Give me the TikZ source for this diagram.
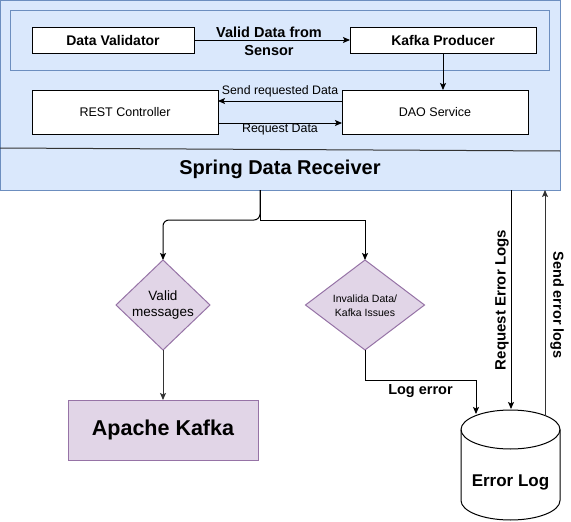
\documentclass[tikz,border=0pt]{standalone}
\usepackage{fontspec}
\setmainfont{Liberation Sans}
\usetikzlibrary{arrows.meta,shapes.geometric,calc}
\definecolor{bluefill}{HTML}{DAE8FC}
\definecolor{bluedraw}{HTML}{6C8EBF}
\definecolor{purfill}{HTML}{E1D5E7}
\definecolor{purdraw}{HTML}{9673A6}
\newcommand{\fsz}[2]{\fontsize{#1}{#2}\selectfont}
\begin{document}
\begin{tikzpicture}[x=1pt,y=-1pt,
  every node/.style={inner sep=0pt, outer sep=0pt},
  arr/.style={draw=black, line width=1pt, -{Stealth[length=7pt,width=6pt,inset=1.5pt]}},
  container/.style={draw=bluedraw, fill=bluefill, line width=1pt},
  wbox/.style={draw=black, fill=white, line width=1pt},
  dia/.style={diamond, draw=purdraw, fill=purfill, line width=1pt},
  pbox/.style={draw=purdraw, fill=purfill, line width=1pt}]
\useasboundingbox (0,0) rectangle (571,522);

% container
\node[container, minimum width=560pt, minimum height=190pt] (recv) at (280,95) {};
\node[container, minimum width=539pt, minimum height=60pt] (inner) at (279.5,40) {};
\coordinate (sepL) at (0,148);
\coordinate (sepR) at (560,151);
\draw[line width=1pt, draw=black!80] (sepL) -- (sepR);
\node[font=\fsz{20}{24}\bfseries] (title) at (280,169) {Spring Data Receiver};

% top boxes
\node[wbox, minimum width=162pt, minimum height=26pt, font=\fsz{14}{17}\bfseries] (dv) at (113,40) {Data Validator};
\node[wbox, minimum width=186pt, minimum height=26pt, font=\fsz{14}{17}\bfseries] (kp) at (443,40) {Kafka Producer};
\node[wbox, minimum width=186pt, minimum height=44pt, font=\fsz{12.5}{15}] (rest) at (125,112) {REST Controller};
\node[wbox, minimum width=186pt, minimum height=44pt, font=\fsz{12.5}{15}] (dao) at (435,112) {DAO Service};

\draw[arr] (dv) -- (kp);
\node[font=\fsz{14.5}{18}\bfseries, align=center] (vlbl) at (269,41) {Valid Data from\\Sensor};
\draw[arr] (kp.south) -- (dao.north -| kp.south);
\draw[arr] ($(dao.west)+(0,-11)$) -- ($(rest.east)+(0,-11)$);
\node[font=\fsz{12.3}{15}] (sendlbl) at (280,91) {Send requested Data};
\draw[arr] ($(rest.east)+(0,11)$) -- ($(dao.west)+(0,11)$);
\node[font=\fsz{12.4}{15}] (reqdlbl) at (280,130) {Request Data};

% branches
\coordinate (split) at (260,220);
\node[dia, minimum width=94pt, minimum height=90pt,
  label={[font=\fsz{13.5}{16}, align=center]center:Valid\\messages}] (valid) at (163,305) {};
\node[dia, minimum width=119pt, minimum height=90pt,
  label={[font=\fsz{10.5}{14}, align=center, yshift=-1pt]center:Invalida Data/\\Kafka Issues}] (inv) at (365,305) {};
\draw[arr, rounded corners=6pt] (recv.south -| split) -- (split) -| (valid.north);
\draw[arr] (recv.south -| split) -- (split) -| (inv.north);

\node[pbox, minimum width=190pt, minimum height=60pt, font=\fsz{21.5}{26}\bfseries] (kafka) at (163,430) {Apache Kafka};
\draw[arr, draw=black!80] (valid.south) -- (kafka.north);

% error log cylinder
\node[minimum width=99pt, minimum height=110pt,
  label={[font=\fsz{17}{20}\bfseries, yshift=-17pt]center:Error Log}] (err) at (510.5,465) {};
\draw[line width=1pt]
  ($(err.north west)+(0,19.5)$) -- ($(err.south west)+(0,-19.5)$)
  arc[start angle=180, end angle=0, x radius=49.5, y radius=19.5]
  -- ($(err.north east)+(0,19.5)$)
  arc[start angle=0, end angle=-180, x radius=49.5, y radius=19.5] -- cycle;
\draw[line width=1pt] ($(err.north west)+(0,19.5)$)
  arc[start angle=180, end angle=0, x radius=49.5, y radius=19.5];

\coordinate (lebend) at (476,380);
\coordinate (logend) at (476,414);
\draw[arr] (inv.south) |- (lebend) -- (logend);
\node[font=\fsz{14.5}{17}\bfseries] (loglbl) at (420.5,391) {Log error};

\coordinate (reqend) at (511,409);
\draw[arr] (recv.south -| reqend) -- (reqend);
\node[rotate=90, font=\fsz{15}{18}\bfseries] (reqlbl) at (502,300) {Request Error Logs};

\coordinate (sendstart) at (545,416);
\draw[arr, draw=black!80] (sendstart) -- (recv.south -| sendstart);
\node[rotate=-90, font=\fsz{14.5}{18}\bfseries] (sendlbl2) at (557,305) {Send error logs};
\end{tikzpicture}
\end{document}
